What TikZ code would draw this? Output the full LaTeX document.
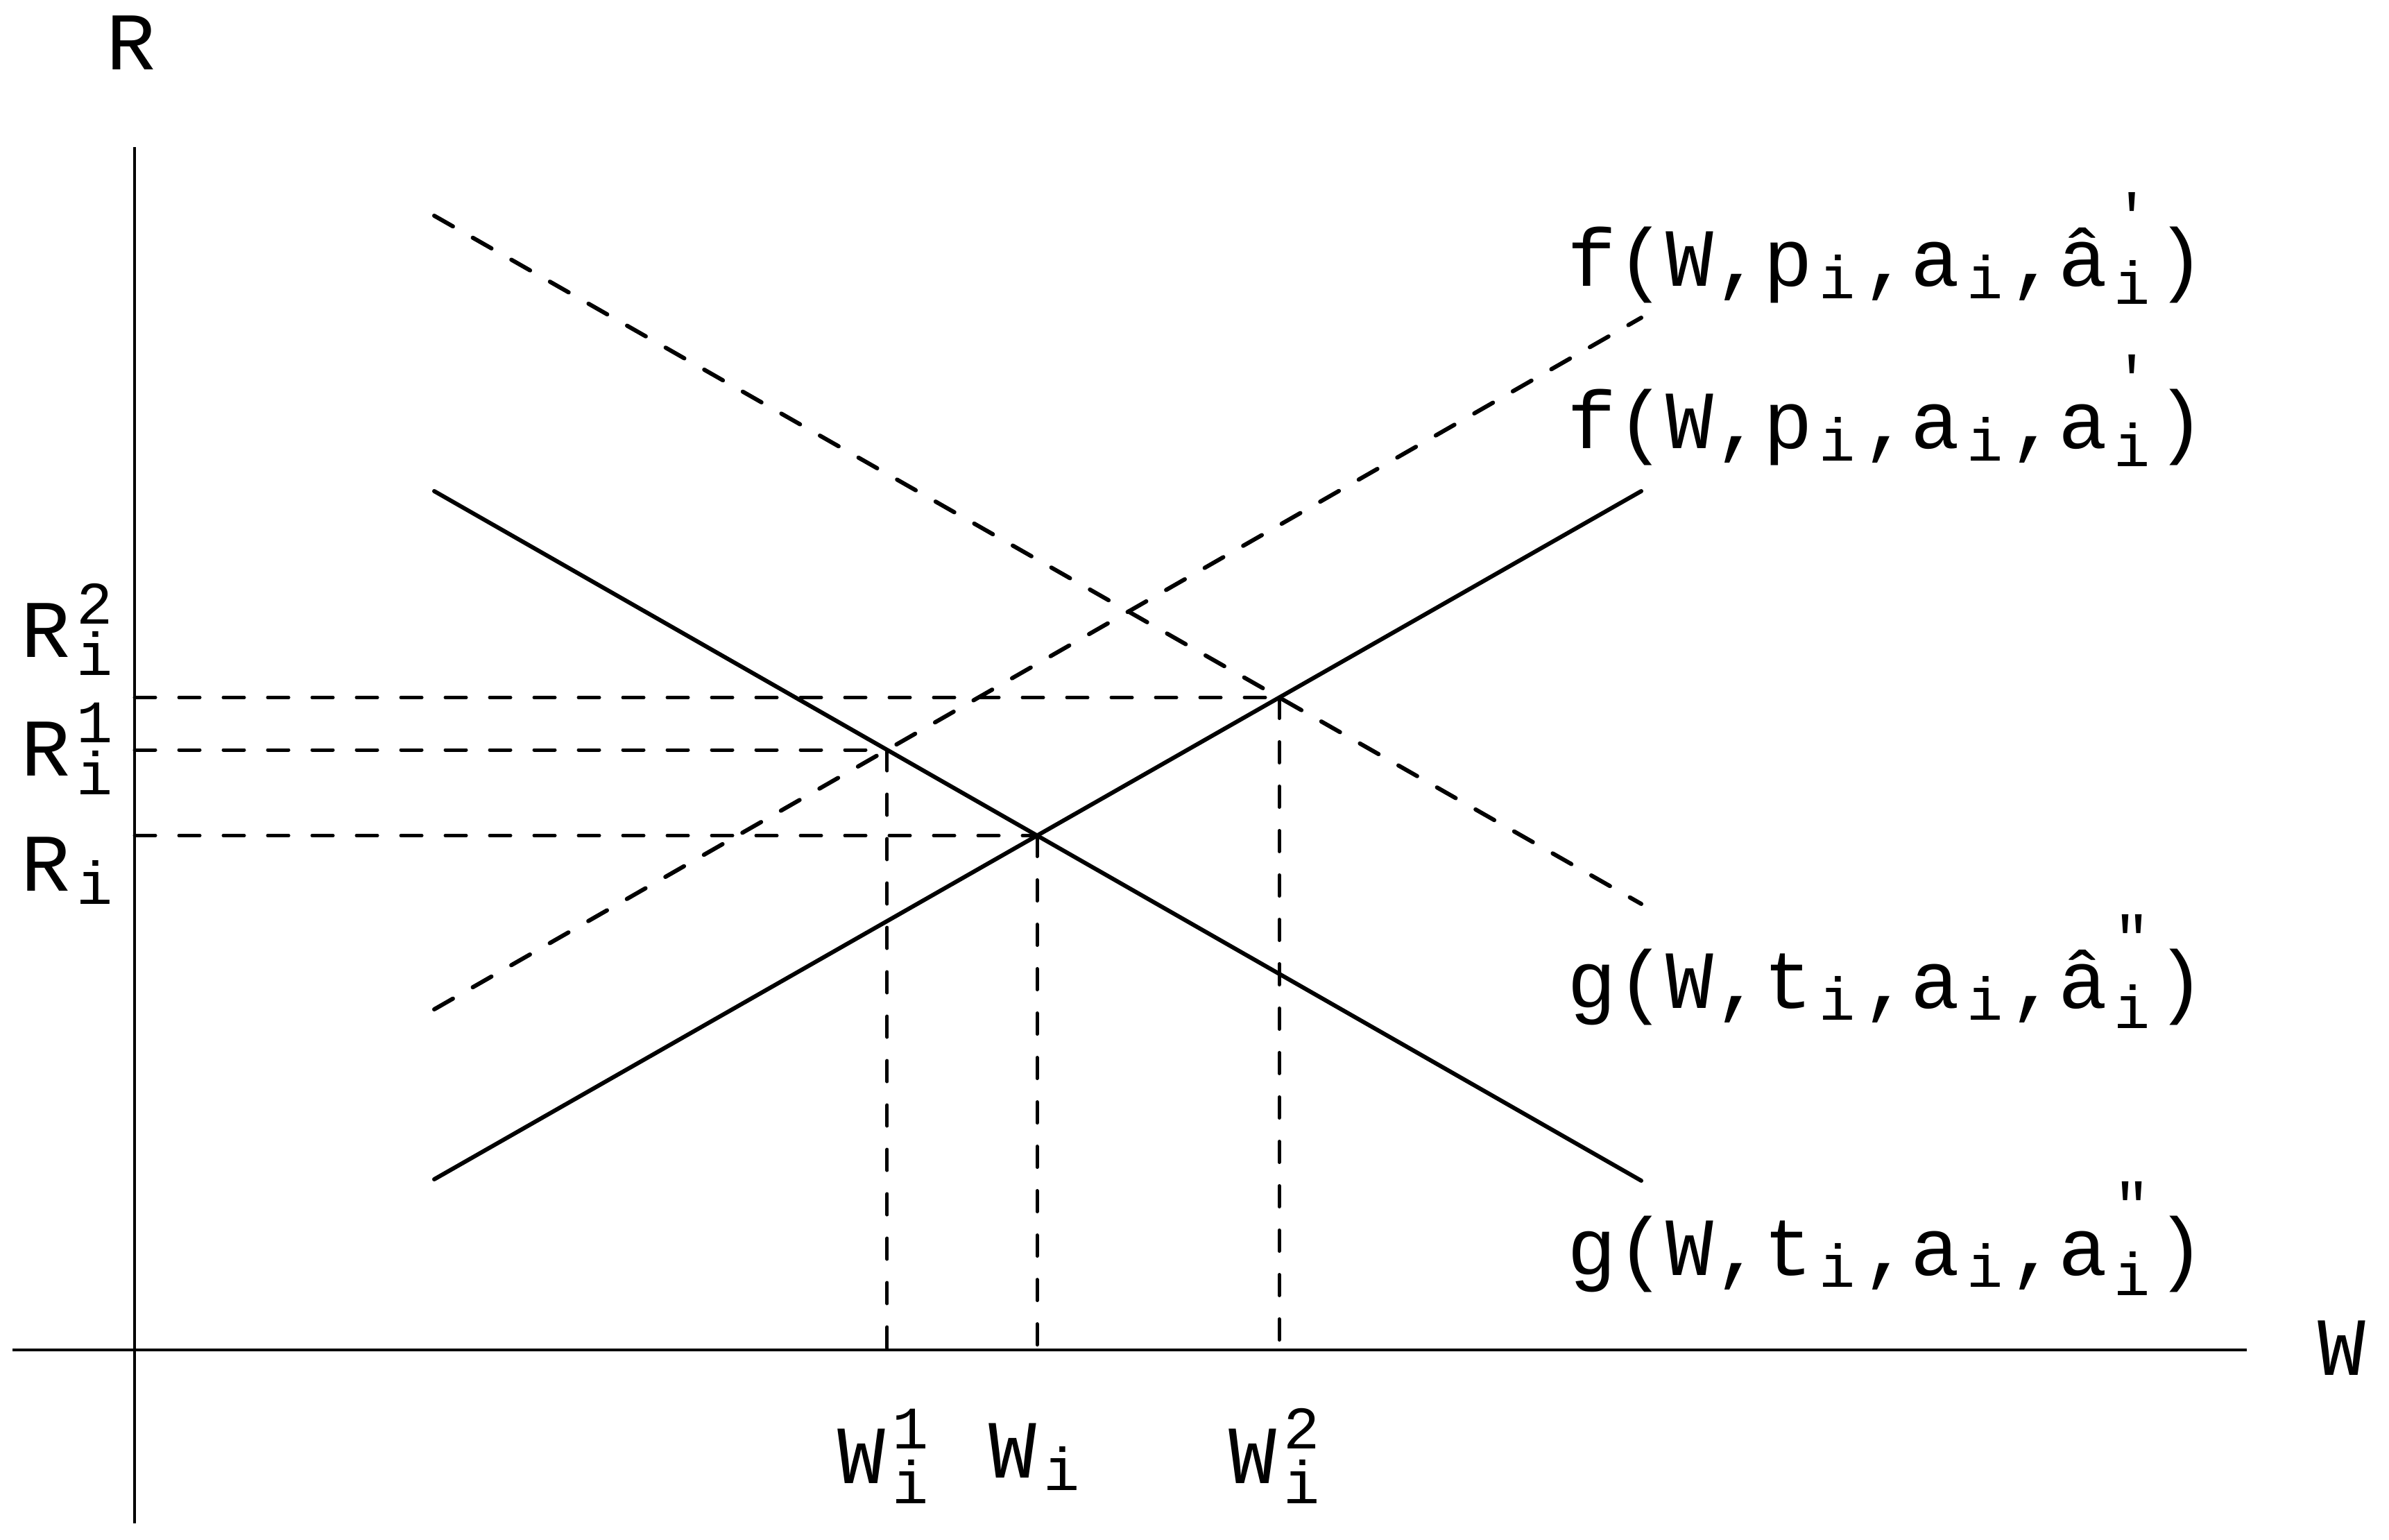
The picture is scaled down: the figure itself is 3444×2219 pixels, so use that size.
\documentclass[tikz,border=0pt]{standalone}
\usepackage{fontspec}
\setmonofont{Liberation Mono}
\usepackage{graphicx}
\usetikzlibrary{calc}
\newlength\cw
\setlength\cw{70.8pt}
\newcommand\mf{\ttfamily\fontsize{118}{140}\selectfont}
\newcommand\scf{\fontsize{87}{100}\selectfont}
\newcommand\ww{\scalebox{1}[1.26]{w}}
\newcommand\cel[1]{\makebox[\cw][c]{#1}}
\newcommand\lo[2]{\cel{\raisebox{-#1pt}{\scf #2}}}
\newcommand\lohi[4]{\rlap{\cel{\raisebox{#3pt}{\scf #4}}}\cel{\raisebox{-#1pt}{\scf #2}}}
\begin{document}
\begin{tikzpicture}[x=1pt,y=-1pt,
  axisline/.style={line width=4pt},
  curve/.style={line width=6pt,line cap=round},
  dcurve/.style={line width=6pt,line cap=round,dash pattern=on 31pt off 33pt},
  guide/.style={line width=5pt,line cap=round,dash pattern=on 30pt off 34pt},
  lbl/.style={inner sep=0pt,anchor=base west,font=\mf}]
\useasboundingbox (0,0) rectangle (3444,2219);
% axes
\coordinate (ytop) at (194,212);
\coordinate (ybot) at (194,2196);
\coordinate (xl) at (18,1946);
\coordinate (xr) at (3239,1946);
\draw[axisline] (ytop) -- (ybot);
\draw[axisline] (xl) -- (xr);
% curve end points
\coordinate (fa) at (626,1700);
\coordinate (fb) at (2366,708);
\coordinate (ga) at (626,708);
\coordinate (gb) at (2366,1702);
\coordinate (fha) at (626,1455);
\coordinate (fhb) at (2366,458);
\coordinate (gha) at (626,311);
\coordinate (ghb) at (2366,1303);
\draw[curve] (fa) -- (fb);
\draw[curve] (ga) -- (gb);
\draw[dcurve] (fha) -- (fhb);
\draw[dcurve] (gha) -- (ghb);
% intersections
\coordinate (P0) at (intersection of fa--fb and ga--gb);
\coordinate (P1) at (intersection of fha--fhb and ga--gb);
\coordinate (P2) at (intersection of fa--fb and gha--ghb);
\foreach \p in {P0,P1,P2}{
  \draw[guide] (\p -| ytop) -- (\p);
  \draw[guide] (\p) -- (\p |- xl);
}
% axis labels
\node[lbl] (Rlab) at (153,100) {R};
\node[lbl] (wlab) at (3340,1982) {\ww};
\node[lbl] (R2) at (30,947) {R\lohi{26}{i}{48}{2}};
\node[lbl] (R1) at (30,1118) {R\lohi{27}{i}{48}{1}};
\node[lbl] (R0) at (30,1284) {R\lo{19}{i}};
\node[lbl] (w1) at (1206,2138) {\ww\lohi{29}{i}{50}{1}};
\node[lbl] (w0) at (1424,2130) {\ww\lo{18}{i}};
\node[lbl] (w2) at (1770,2138) {\ww\lohi{29}{i}{50}{2}};
% curve labels
\node[lbl] (fhl) at (2259,412) {f(\ww,p\lo{18}{i},a\lo{18}{i},â\lohi{26}{i}{72}{'})};
\node[lbl] (fl) at (2259,646) {f(\ww,p\lo{18}{i},a\lo{18}{i},a\lohi{26}{i}{72}{'})};
\node[lbl] (ghl) at (2259,1453) {g(\ww,t\lo{17}{i},a\lo{17}{i},â\lohi{29}{i}{72}{"})};
\node[lbl] (gl) at (2259,1838) {g(\ww,t\lo{17}{i},a\lo{17}{i},a\lohi{29}{i}{72}{"})};
\end{tikzpicture}
\end{document}
